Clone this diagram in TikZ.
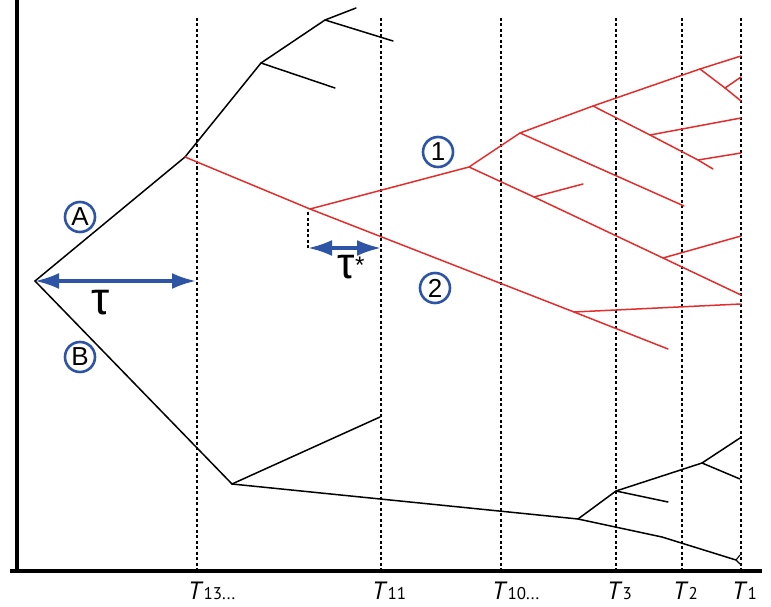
\documentclass[tikz,border=0pt]{standalone}
\usepackage{fontspec}
\setmainfont{PT Sans}
\newfontfamily\arialfont{Liberation Sans}
\usetikzlibrary{arrows.meta}
\definecolor{tblue}{RGB}{46,84,165}
\definecolor{tred}{RGB}{226,45,45}
\begin{document}
\begin{tikzpicture}[x=1pt,y=-1pt,
  blk/.style={line width=1.5pt,black,line cap=round,line join=round},
  rd/.style={line width=1.5pt,tred,line cap=round,line join=round},
  guide/.style={line width=1.1pt,dash pattern=on 3pt off 2.5pt},
  axisline/.style={line width=3.3pt},
  twoway/.style={tblue,line width=3.2pt,{Latex[length=24pt,width=16pt]}-{Latex[length=24pt,width=16pt]}},
  circ/.style={circle,draw=tblue,line width=2.6pt,minimum size=30pt,inner sep=0pt,font=\arialfont\fontsize{26}{26}\selectfont},
  tlab/.style={anchor=base west,inner sep=0pt}]
\useasboundingbox (0,0) rectangle (771,607);

% axes
\coordinate (yt) at (17,0);
\coordinate (yb) at (17,573);
\coordinate (xl) at (10,571);
\coordinate (xr) at (762,571);
\draw[axisline] (yt) -- (yb);
\draw[axisline] (xl) -- (xr);

% dashed time lines
\foreach \n/\x in {t13/197,t11/381,t10/501,t3/616,t2/682,t1/741}{
  \coordinate (\n top) at (\x,18);
  \coordinate (\n bot) at (\x,569);
  \draw[guide] (\n top) -- (\n bot);
}

% labels of time lines
\newcommand{\tl}[2]{{\fontsize{25}{25}\selectfont\itshape #1\/}{\fontsize{17}{17}\selectfont #2}}
\node[tlab] (L13) at (188,599) {\tl{T}{13...}};
\node[tlab] (L11) at (372,599) {\tl{T}{11}};
\node[tlab] (L10) at (492,599) {\tl{T}{10...}};
\node[tlab] (L3) at (607,599) {\tl{T}{3}};
\node[tlab] (L2) at (673,599) {\tl{T}{2}};
\node[tlab] (L1) at (732,599) {\tl{T}{1}};

% black tree
\coordinate (R) at (35,281);
\coordinate (A1) at (185,157);
\coordinate (B1) at (232,484);
\coordinate (K1) at (261,63);
\coordinate (K1e) at (335,88);
\coordinate (K2) at (325,20);
\coordinate (K2a) at (356,8);
\coordinate (K2b) at (393,41);
\draw[blk] (R) -- (A1) -- (K1) -- (K2) -- (K2a);
\draw[blk] (K1) -- (K1e);
\draw[blk] (K2) -- (K2b);
\draw[blk] (R) -- (B1);
\coordinate (B1e) at (380,417);
\coordinate (C1) at (578,519);
\coordinate (C1m) at (662,537);
\coordinate (C1e) at (736,560);
\coordinate (C1u) at (740,555);
\coordinate (C1d) at (740,564);
\coordinate (C2) at (616,491);
\coordinate (C2e) at (668,502);
\coordinate (C3) at (702,463);
\coordinate (C3a) at (740,438);
\coordinate (C3b) at (740,479);
\draw[blk] (B1) -- (B1e);
\draw[blk] (B1) -- (C1) -- (C1m) -- (C1e);
\draw[blk,line width=1.1pt] (C1u) -- (C1e) -- (C1d);
\draw[blk] (C1) -- (C2) -- (C3) -- (C3a);
\draw[blk] (C2) -- (C2e);
\draw[blk] (C3) -- (C3b);

% red tree
\coordinate (N1) at (310,209);
\coordinate (N1x) at (574,312);
\coordinate (N1e) at (668,349);
\coordinate (N1xe) at (741,304);
\coordinate (N2) at (469,167);
\coordinate (M1) at (534,197);
\coordinate (M1e) at (583,184);
\coordinate (M2) at (663,258);
\coordinate (M2e) at (741,236);
\coordinate (N2e) at (741,295);
\coordinate (N3) at (520,133);
\coordinate (N3e) at (684,206);
\coordinate (N4) at (593,106);
\coordinate (N4e) at (713,169);
\coordinate (P1) at (650,135);
\coordinate (P1e) at (741,118);
\coordinate (P2) at (698,160);
\coordinate (P2e) at (741,153);
\coordinate (N5) at (700,69);
\coordinate (N5a) at (741,56);
\coordinate (N5b) at (741,101);
\coordinate (Q1) at (725,88);
\coordinate (Q1e) at (741,77);
\draw[rd] (A1) -- (N1) -- (N1x) -- (N1e);
\draw[rd] (N1x) -- (N1xe);
\draw[rd] (N1) -- (N2) -- (N3) -- (N4) -- (N5) -- (N5a);
\draw[rd] (N2) -- (M1) -- (M2) -- (N2e);
\draw[rd] (M1) -- (M1e);
\draw[rd] (M2) -- (M2e);
\draw[rd] (N3) -- (N3e);
\draw[rd] (N4) -- (P1) -- (P2) -- (N4e);
\draw[rd] (P1) -- (P1e);
\draw[rd] (P2) -- (P2e);
\draw[rd] (N5) -- (Q1) -- (N5b);
\draw[rd] (Q1) -- (Q1e);

% tau arrows
\coordinate (tauR) at (196,281);
\draw[twoway] (R) -- (tauR);
\node[font=\arialfont\fontsize{46}{46}\selectfont,inner sep=0pt] (tau) at (101,303) {τ};
\coordinate (tsL) at (308,248);
\coordinate (tsT) at (308,212);
\coordinate (tsR) at (381,248);
\draw[guide] (tsT) -- (tsL);
\draw[twoway] (tsL) -- (tsR);
\node[font=\arialfont\fontsize{44}{44}\selectfont,inner sep=0pt] (taus) at (351,267) {τ\raisebox{0.12em}{\fontsize{24}{24}\selectfont*}};

% circled labels
\node[circ] (cA) at (80,217) {A};
\node[circ] (cB) at (80,357) {B};
\node[circ] (c1) at (438,152) {1};
\node[circ] (c2) at (435,288) {2};
\end{tikzpicture}
\end{document}
